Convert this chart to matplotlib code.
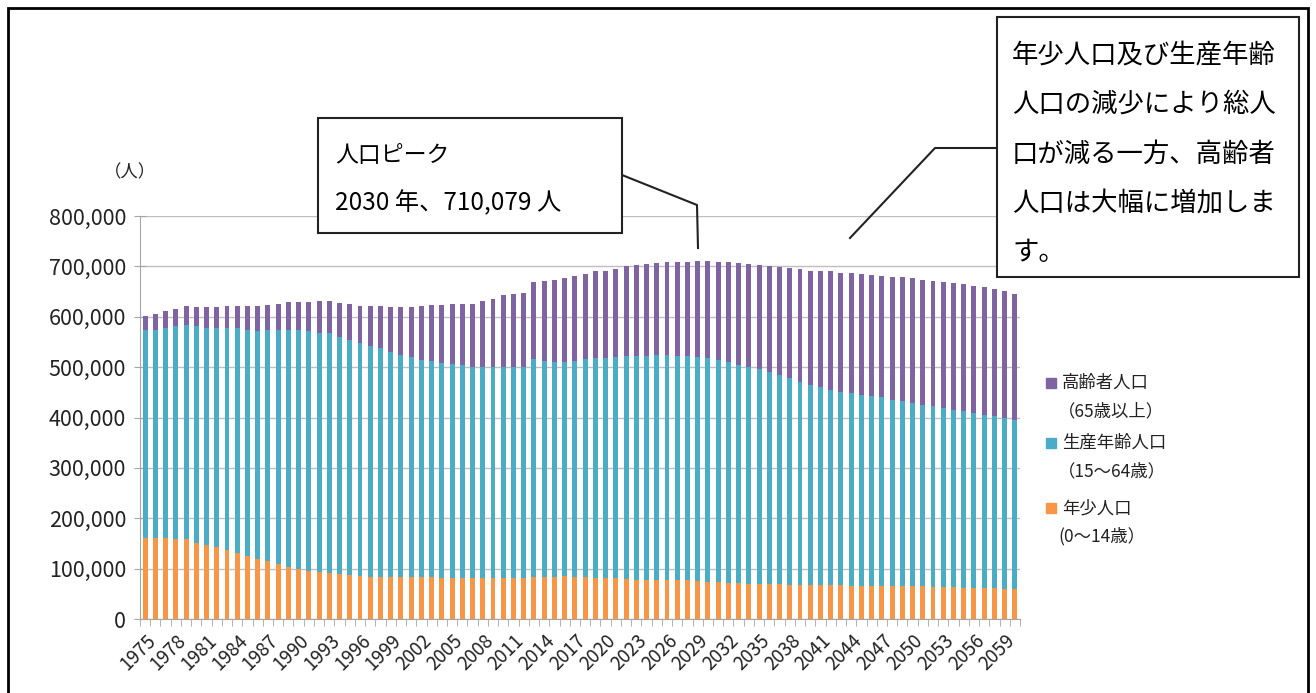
import numpy as np
import matplotlib
matplotlib.use("Agg")
import matplotlib.pyplot as plt
from matplotlib.patches import Rectangle
from matplotlib.lines import Line2D
from matplotlib.ticker import FuncFormatter

plt.rcParams['font.family'] = ['Noto Sans CJK JP', 'DejaVu Sans']

years = list(range(1975, 2061))

# 年少人口 (0~14歳)
young = [161000, 161000, 161000, 159000, 158000, 151000, 146000, 142000, 137000, 132000,
         126000, 120000, 116000, 109000, 104000, 99000, 96000, 93000, 91000, 89000,
         88000, 86000, 84000, 84000, 84000, 84000, 83000, 83000, 83000, 81000,
         81000, 81000, 81000, 81000, 81000, 81000, 81000, 81000, 84000, 84000,
         84000, 85000, 83500, 83500, 81500, 81500, 81500, 80200, 78200, 78200,
         78200, 78200, 76900, 76900, 74900, 73600, 73600, 71600, 71600, 70300,
         70300, 69000, 69000, 68300, 68300, 67000, 67000, 67000, 67000, 66300,
         66300, 65700, 65700, 65000, 65000, 65000, 65000, 63700, 63700, 63700,
         62400, 62400, 61700, 61700, 60400, 60400]

# 生産年齢人口 (15~64歳)
working = [413000, 413000, 417000, 423000, 426000, 430000, 432000, 435000, 440000, 445000,
           448000, 452000, 458000, 465000, 470000, 475000, 475000, 475000, 476000, 471000,
           466000, 462000, 458000, 453000, 447000, 441000, 438000, 432000, 429000, 428000,
           426000, 423000, 419000, 419000, 419000, 419000, 419000, 419000, 432000, 429000,
           427000, 426000, 429500, 433500, 436500, 437500, 439500, 442800, 444800, 444800,
           446800, 445800, 446100, 446100, 445100, 444400, 441400, 439400, 433400, 430700,
           426700, 421000, 416000, 409700, 402700, 398000, 394000, 388000, 384000, 381700,
           378700, 376300, 374300, 370000, 367000, 363000, 360000, 358300, 354300, 351300,
           349600, 346600, 343300, 340300, 339600, 334600]

# 高齢者人口 (65歳以上)
elderly = [28000, 32000, 34000, 34000, 37000, 39000, 42000, 43000, 44000, 44000,
           47000, 49000, 49000, 52000, 56000, 56000, 59000, 64000, 65000, 68000,
           71000, 74000, 79000, 84000, 89000, 95000, 99000, 107000, 111000, 114000,
           118000, 121000, 125000, 132000, 135000, 143000, 145000, 147000, 152000, 158000,
           162000, 166000, 168000, 168000, 172000, 171000, 174000, 177000, 180000, 181000,
           182000, 184000, 186000, 186500, 189900, 192079, 194000, 197000, 202000, 203000,
           206000, 210000, 213000, 218000, 223000, 226000, 229000, 235000, 236000, 238000,
           240000, 241000, 241000, 244000, 246000, 248000, 248000, 249000, 250000, 252000,
           253000, 252000, 254000, 253000, 251000, 251000]

series_labels = [("高齢者人口", "（65歳以上）"),
                 ("生産年齢人口", "（15～64歳）"),
                 ("年少人口", "(0～14歳）")]
colors = {"young": "#F79646", "working": "#4BACC6", "elderly": "#8064A2"}

W, H = 1316, 693


def px(x, y):
    # pixel position -> figure fraction
    return x / W, 1 - y / H


fig = plt.figure(figsize=(W / 100, H / 100), dpi=100)
ax = fig.add_axes([140 / W, 74 / H, 880 / W, 403 / H])

x = np.arange(len(years))
young_a = np.array(young)
working_a = np.array(working)
elderly_a = np.array(elderly)
bw = 0.48
ax.bar(x, young_a, bw, color=colors["young"], zorder=3)
ax.bar(x, working_a, bw, bottom=young_a, color=colors["working"], zorder=3)
ax.bar(x, elderly_a, bw, bottom=young_a + working_a, color=colors["elderly"], zorder=3)

ax.set_xlim(-0.5, len(years) - 0.5)
ax.set_ylim(0, 800000)
ax.set_yticks(np.arange(0, 800001, 100000))
ax.yaxis.set_major_formatter(FuncFormatter(lambda v, p: f"{int(v):,}"))
ax.grid(axis="y", color="#BFBFBF", lw=1, zorder=0)

for s in ["top", "right"]:
    ax.spines[s].set_visible(False)
ax.spines["left"].set_color("#A6A6A6")
ax.spines["bottom"].set_color("#A6A6A6")

ax.tick_params(axis="y", direction="inout", length=8, color="#A6A6A6",
               labelsize=15.5, pad=6, labelcolor="#222222")

# x labels every 3 years, tick marks at category boundaries
lab_idx = list(range(0, len(years), 3))
ax.set_xticks(lab_idx)
ax.set_xticklabels([str(years[i]) for i in lab_idx], rotation=45, ha="right",
                   rotation_mode="anchor", fontsize=13.5, color="#222222")
ax.tick_params(axis="x", which="major", length=0, pad=8)
ax.set_xticks(np.arange(-0.5, len(years), 1), minor=True)
ax.tick_params(axis="x", which="minor", length=5, color="#A6A6A6")

fig.text(*px(130, 172), "（人）", fontsize=12.5, ha="center", va="center", color="#222222")

# legend (drawn by hand so the marker sits on the first line)
leg_y = [383, 443, 508]
leg_col = [colors["elderly"], colors["working"], colors["young"]]
for (l1, l2), yy, c in zip(series_labels, leg_y, leg_col):
    fx, fy = px(1046, yy + 5)
    fig.add_artist(Rectangle((fx, fy), 10 / W, 10 / H, transform=fig.transFigure,
                             color=c))
    fig.text(*px(1062, yy), l1, fontsize=12.5, va="center", ha="left", color="#222222")
    fig.text(*px(1058, yy + 28), l2, fontsize=12.5, va="center", ha="left", color="#222222")

# callout boxes
def box(x0, y0, x1, y1):
    fx0, fy1 = px(x0, y1)
    fig.add_artist(Rectangle((fx0, fy1), (x1 - x0) / W, (y1 - y0) / H,
                             transform=fig.transFigure, fill=True, facecolor="white",
                             edgecolor="#222222", lw=1.5, zorder=5))


def leader(pts):
    xs = [p[0] / W for p in pts]
    ys = [1 - p[1] / H for p in pts]
    fig.add_artist(Line2D(xs, ys, transform=fig.transFigure, color="#222222", lw=1.5))


box(318, 118, 622, 233)
fig.text(*px(335, 155), "人口ピーク", fontsize=16.5, va="center", ha="left", zorder=6)
fig.text(*px(335, 203), "2030 年、710,079 人", fontsize=17.5, va="center", ha="left", zorder=6)
leader([(622, 175), (697, 205), (698, 248)])

box(997, 17, 1299, 277)
note = ["年少人口及び生産年齢", "人口の減少により総人", "口が減る一方、高齢者",
        "人口は大幅に増加しま", "す。"]
for i, line in enumerate(note):
    fig.text(*px(1012, 55 + 49.5 * i), line, fontsize=19, va="center", ha="left", zorder=6)
leader([(997, 148), (935, 148), (850, 238)])

# outer frame
fx0, fy0 = px(8, 700)
fig.add_artist(Rectangle((fx0, fy0), 1300 / W, 692 / H, transform=fig.transFigure,
                         fill=False, edgecolor="black", lw=2))

fig.savefig("out.png", dpi=100)
